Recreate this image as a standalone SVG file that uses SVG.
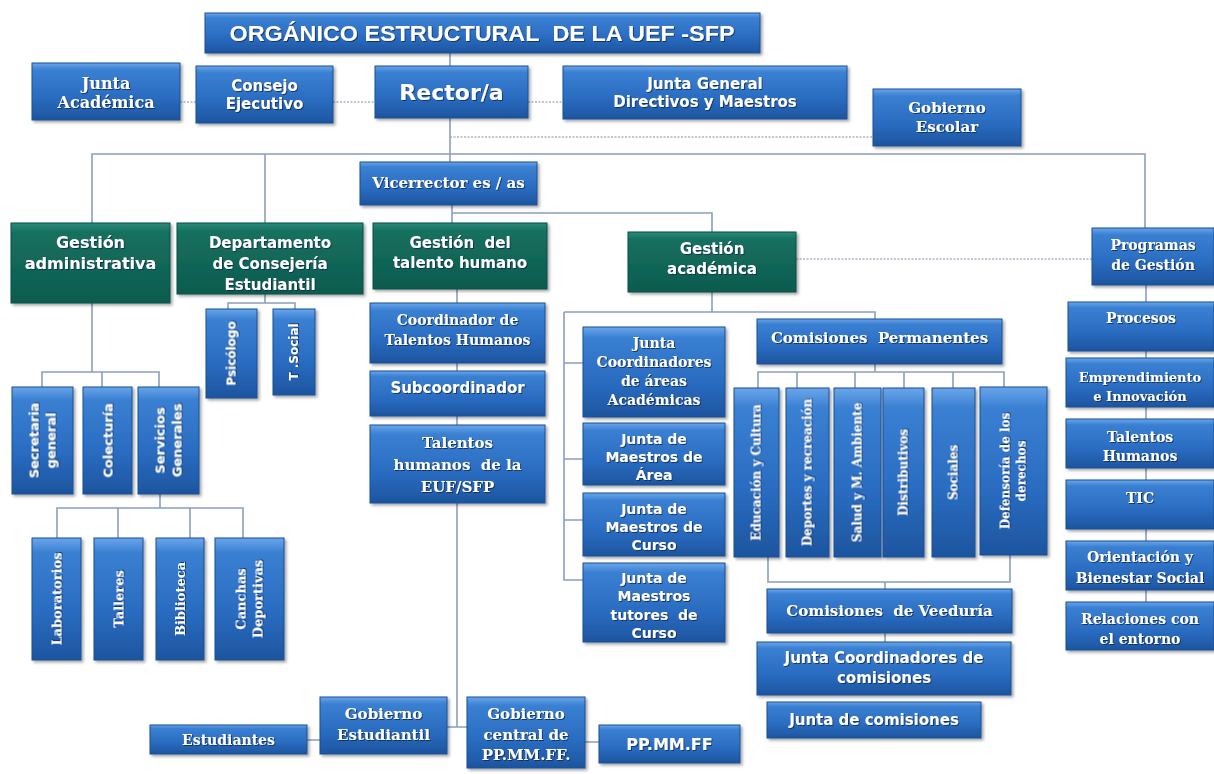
<svg xmlns="http://www.w3.org/2000/svg" width="1214" height="774" viewBox="0 0 1214 774">
<defs>
<linearGradient id="gb" x1="0" y1="0" x2="0" y2="1">
<stop offset="0" stop-color="#6aa6ea"/>
<stop offset="0.12" stop-color="#3a80d2"/>
<stop offset="0.6" stop-color="#2a6cc1"/>
<stop offset="1" stop-color="#1d559f"/>
</linearGradient>
<linearGradient id="gt" x1="0" y1="0" x2="0" y2="1">
<stop offset="0" stop-color="#2a8a7a"/>
<stop offset="0.12" stop-color="#16705f"/>
<stop offset="1" stop-color="#0c5b4e"/>
</linearGradient>
<filter id="sh" x="-10%" y="-10%" width="125%" height="130%">
<feDropShadow dx="2" dy="2" stdDeviation="1.5" flood-color="#000" flood-opacity="0.35"/>
</filter>
<filter id="ts" x="-10%" y="-20%" width="120%" height="150%">
<feDropShadow dx="1" dy="1" stdDeviation="0.7" flood-color="#0a2650" flood-opacity="0.8"/>
</filter>
</defs>
<style>
.b{fill:url(#gb);stroke:#1b4f94;stroke-width:1;filter:url(#sh)}
.t{fill:url(#gt);stroke:#0b4f44;stroke-width:1;filter:url(#sh)}
.s{font-family:"DejaVu Sans","Liberation Sans",sans-serif;font-weight:bold;fill:#fff;text-anchor:middle;filter:url(#ts)}
.a{font-family:"Liberation Sans",Arial,sans-serif;font-weight:bold;fill:#fff;text-anchor:middle;filter:url(#ts)}
.r{font-family:"DejaVu Serif","Liberation Serif",serif;font-weight:bold;fill:#fff;text-anchor:middle;filter:url(#ts)}
.c{fill:none;stroke:#8a9fbf;stroke-width:1.6}
.d{fill:none;stroke:#aab3c2;stroke-width:1.4;stroke-dasharray:2 1.5}
</style>
<rect width="1214" height="774" fill="#fff"/>

<g id="connectors">
<path class="d" d="M180 102H196M333 102H375M528 102H563M450 137H873"/>
<path class="d" d="M796 259H1092"/>
<path class="c" d="M450 53V66M450 118V162M92 223V154H1145V228M265 154V223"/>
<path class="c" d="M452 205V223M452 213H712V232"/>
<path class="c" d="M457 289V303M457 363V371M457 416V425M457 503V727M447 727H467"/>
<path class="c" d="M307 740H320M585 742H599"/>
<path class="c" d="M92 303V372M42 387V372H159V387M102 372V387"/>
<path class="c" d="M265 294V303M228 309V303H295V309"/>
<path class="c" d="M160 494V508M57 538V508H243V538M118 508V538M190 508V538"/>
<path class="c" d="M712 292V312M564 312H875V319M564 312V580H583M564 363H583M564 459H583M564 520H583"/>
<path class="c" d="M875 364V372M758 388V372H1004V388M797 372V388M855 372V388M904 372V388M953 372V388"/>
<path class="c" d="M768 557V582H1010V555M885 582V589M885 633V642"/>
<path class="c" d="M1146 285V302M1146 351V358M1146 407V419M1146 468V480M1146 529V541M1146 590V602"/>
</g>

<g id="title"><rect class="b" x="205" y="13" width="555" height="40"/><text class="a" x="482" y="41" font-size="22" textLength="505" lengthAdjust="spacingAndGlyphs">ORGÁNICO ESTRUCTURAL&#160; DE LA UEF -SFP</text></g>
<g id="junta-academica"><rect class="b" x="32" y="63" width="148" height="57"/><text class="r" font-size="16"><tspan x="106" y="89">Junta</tspan><tspan x="106" y="108">Académica</tspan></text></g>
<g id="consejo"><rect class="b" x="196" y="66" width="137" height="57"/><text class="s" font-size="15"><tspan x="264.5" y="91">Consejo</tspan><tspan x="264.5" y="109">Ejecutivo</tspan></text></g>
<g id="rector"><rect class="b" x="375" y="66" width="153" height="52"/><text class="s" x="451.5" y="100" font-size="22">Rector/a</text></g>
<g id="junta-general"><rect class="b" x="563" y="66" width="284" height="53"/><text class="s" font-size="15"><tspan x="705" y="89">Junta General</tspan><tspan x="705" y="107">Directivos y Maestros</tspan></text></g>
<g id="gobierno-escolar"><rect class="b" x="873" y="89" width="148" height="57"/><text class="r" font-size="15"><tspan x="947" y="113">Gobierno</tspan><tspan x="947" y="132">Escolar</tspan></text></g>
<g id="vicerrector"><rect class="b" x="360" y="162" width="177" height="43"/><text class="r" x="448.5" y="188" font-size="15">Vicerrector es / as</text></g>

<g id="gestion-admin"><rect class="t" x="11" y="223" width="159" height="80"/><text class="s" font-size="16"><tspan x="90.5" y="248">Gestión</tspan><tspan x="90.5" y="269">administrativa</tspan></text></g>
<g id="departamento"><rect class="t" x="177" y="223" width="186" height="71"/><text class="s" font-size="15"><tspan x="270" y="248">Departamento</tspan><tspan x="270" y="269">de Consejería</tspan><tspan x="270" y="290">Estudiantil</tspan></text></g>
<g id="gestion-talento"><rect class="t" x="373" y="223" width="174" height="66"/><text class="s" font-size="15"><tspan x="460" y="248">Gestión&#160; del</tspan><tspan x="460" y="268">talento humano</tspan></text></g>
<g id="gestion-academica"><rect class="t" x="628" y="232" width="168" height="60"/><text class="s" font-size="15"><tspan x="712" y="254">Gestión</tspan><tspan x="712" y="274">académica</tspan></text></g>
<g id="programas"><rect class="b" x="1092" y="228" width="122" height="57"/><text class="r" font-size="14"><tspan x="1153" y="250">Programas</tspan><tspan x="1153" y="270">de Gestión</tspan></text></g>

<g id="secretaria"><rect class="b" x="12" y="387" width="61" height="107"/><g transform="translate(42.5,440.5) rotate(-90)"><text class="s" font-size="13"><tspan x="0" y="-4">Secretaria</tspan><tspan x="0" y="13">general</tspan></text></g></g>
<g id="colecturia"><rect class="b" x="83" y="387" width="49" height="107"/><g transform="translate(107.5,440.5) rotate(-90)"><text class="s" font-size="13" x="0" y="5">Colecturía</text></g></g>
<g id="servicios"><rect class="b" x="138" y="387" width="61" height="107"/><g transform="translate(168.5,440.5) rotate(-90)"><text class="s" font-size="13"><tspan x="0" y="-4">Servicios</tspan><tspan x="0" y="13">Generales</tspan></text></g></g>
<g id="psicologo"><rect class="b" x="206" y="309" width="51" height="89"/><g transform="translate(231.5,353.5) rotate(-90)"><text class="s" font-size="12" x="0" y="4">Psicólogo</text></g></g>
<g id="tsocial"><rect class="b" x="273" y="309" width="42" height="86"/><g transform="translate(294,352) rotate(-90)"><text class="s" font-size="12" x="0" y="4">T .Social</text></g></g>

<g id="laboratorios"><rect class="b" x="32" y="538" width="49" height="122"/><g transform="translate(56.5,599) rotate(-90)"><text class="r" font-size="13" x="0" y="5">Laboratorios</text></g></g>
<g id="talleres"><rect class="b" x="94" y="538" width="49" height="122"/><g transform="translate(118.5,599) rotate(-90)"><text class="r" font-size="13" x="0" y="5">Talleres</text></g></g>
<g id="biblioteca"><rect class="b" x="156" y="538" width="48" height="122"/><g transform="translate(180,599) rotate(-90)"><text class="r" font-size="13" x="0" y="5">Biblioteca</text></g></g>
<g id="canchas"><rect class="b" x="215" y="538" width="69" height="122"/><g transform="translate(249.5,599) rotate(-90)"><text class="r" font-size="13"><tspan x="0" y="-4">Canchas</tspan><tspan x="0" y="13">Deportivas</tspan></text></g></g>

<g id="coordinador"><rect class="b" x="370" y="303" width="175" height="60"/><text class="r" font-size="14"><tspan x="457.5" y="325">Coordinador de</tspan><tspan x="457.5" y="345">Talentos Humanos</tspan></text></g>
<g id="subcoordinador"><rect class="b" x="370" y="371" width="175" height="45"/><text class="s" x="457.5" y="393" font-size="15">Subcoordinador</text></g>
<g id="talentos-euf"><rect class="b" x="370" y="425" width="175" height="78"/><text class="r" font-size="15"><tspan x="457.5" y="448">Talentos</tspan><tspan x="457.5" y="470">humanos&#160; de la</tspan><tspan x="457.5" y="492">EUF/SFP</tspan></text></g>

<g id="junta-coord-areas"><rect class="b" x="583" y="327" width="142" height="90"/><text class="r" font-size="14"><tspan x="654" y="348">Junta</tspan><tspan x="654" y="367">Coordinadores</tspan><tspan x="654" y="386">de áreas</tspan><tspan x="654" y="405">Académicas</tspan></text></g>
<g id="junta-maestros-area"><rect class="b" x="583" y="423" width="142" height="62"/><text class="s" font-size="14"><tspan x="654" y="444">Junta de</tspan><tspan x="654" y="462">Maestros de</tspan><tspan x="654" y="480">Área</tspan></text></g>
<g id="junta-maestros-curso"><rect class="b" x="583" y="493" width="142" height="63"/><text class="s" font-size="14"><tspan x="654" y="514">Junta de</tspan><tspan x="654" y="532">Maestros de</tspan><tspan x="654" y="550">Curso</tspan></text></g>
<g id="junta-maestros-tutores"><rect class="b" x="583" y="563" width="142" height="79"/><text class="s" font-size="14"><tspan x="654" y="583">Junta de</tspan><tspan x="654" y="601">Maestros</tspan><tspan x="654" y="620">tutores&#160; de</tspan><tspan x="654" y="638">Curso</tspan></text></g>

<g id="comisiones-permanentes"><rect class="b" x="757" y="319" width="245" height="45"/><text class="r" x="879.5" y="343" font-size="15">Comisiones&#160; Permanentes</text></g>
<g id="educacion"><rect class="b" x="734" y="388" width="45" height="169"/><g transform="translate(756.5,472.5) rotate(-90)"><text class="r" font-size="12" x="0" y="4">Educación y Cultura</text></g></g>
<g id="deportes"><rect class="b" x="786" y="388" width="43" height="169"/><g transform="translate(807.5,472.5) rotate(-90)"><text class="r" font-size="12" x="0" y="4">Deportes y recreación</text></g></g>
<g id="salud"><rect class="b" x="834" y="388" width="47" height="169"/><g transform="translate(857.5,472.5) rotate(-90)"><text class="r" font-size="12" x="0" y="4">Salud y M. Ambiente</text></g></g>
<g id="distributivos"><rect class="b" x="883" y="388" width="41" height="169"/><g transform="translate(903.5,472.5) rotate(-90)"><text class="r" font-size="12" x="0" y="4">Distributivos</text></g></g>
<g id="sociales"><rect class="b" x="932" y="388" width="43" height="169"/><g transform="translate(953.5,472.5) rotate(-90)"><text class="r" font-size="12" x="0" y="4">Sociales</text></g></g>
<g id="defensoria"><rect class="b" x="980" y="387" width="67" height="168"/><g transform="translate(1013.5,471) rotate(-90)"><text class="r" font-size="12"><tspan x="0" y="-4">Defensoría de los</tspan><tspan x="0" y="12">derechos</tspan></text></g></g>

<g id="veeduria"><rect class="b" x="767" y="589" width="245" height="44"/><text class="r" x="889.5" y="616" font-size="15">Comisiones&#160; de Veeduría</text></g>
<g id="junta-coord-comisiones"><rect class="b" x="757" y="642" width="254" height="53"/><text class="s" font-size="15"><tspan x="884" y="663">Junta Coordinadores de</tspan><tspan x="884" y="683">comisiones</tspan></text></g>
<g id="junta-comisiones"><rect class="b" x="767" y="702" width="214" height="36"/><text class="s" x="874" y="725" font-size="15">Junta de comisiones</text></g>

<g id="procesos"><rect class="b" x="1068" y="302" width="146" height="49"/><text class="r" x="1141" y="323" font-size="14">Procesos</text></g>
<g id="emprendimiento"><rect class="b" x="1066" y="358" width="148" height="49"/><text class="r" font-size="13"><tspan x="1140" y="382">Emprendimiento</tspan><tspan x="1140" y="401">e Innovación</tspan></text></g>
<g id="talentos-humanos"><rect class="b" x="1066" y="419" width="148" height="49"/><text class="r" font-size="14"><tspan x="1140" y="442">Talentos</tspan><tspan x="1140" y="461">Humanos</tspan></text></g>
<g id="tic"><rect class="b" x="1066" y="480" width="148" height="49"/><text class="r" x="1140" y="503" font-size="14">TIC</text></g>
<g id="orientacion"><rect class="b" x="1066" y="541" width="148" height="49"/><text class="r" font-size="14"><tspan x="1140" y="562">Orientación y</tspan><tspan x="1140" y="583">Bienestar Social</tspan></text></g>
<g id="relaciones"><rect class="b" x="1066" y="602" width="148" height="48"/><text class="r" font-size="14"><tspan x="1140" y="624">Relaciones con</tspan><tspan x="1140" y="644">el entorno</tspan></text></g>

<g id="estudiantes"><rect class="b" x="150" y="725" width="157" height="29"/><text class="r" x="228.5" y="745" font-size="14">Estudiantes</text></g>
<g id="gobierno-estudiantil"><rect class="b" x="320" y="697" width="127" height="57"/><text class="r" font-size="15"><tspan x="383.5" y="719">Gobierno</tspan><tspan x="383.5" y="740">Estudiantil</tspan></text></g>
<g id="gobierno-central"><rect class="b" x="467" y="697" width="118" height="71"/><text class="r" font-size="15"><tspan x="526" y="719">Gobierno</tspan><tspan x="526" y="740">central de</tspan><tspan x="526" y="760">PP.MM.FF.</tspan></text></g>
<g id="ppmmff"><rect class="b" x="599" y="725" width="141" height="38"/><text class="s" x="669.5" y="750" font-size="16">PP.MM.FF</text></g>
</svg>
